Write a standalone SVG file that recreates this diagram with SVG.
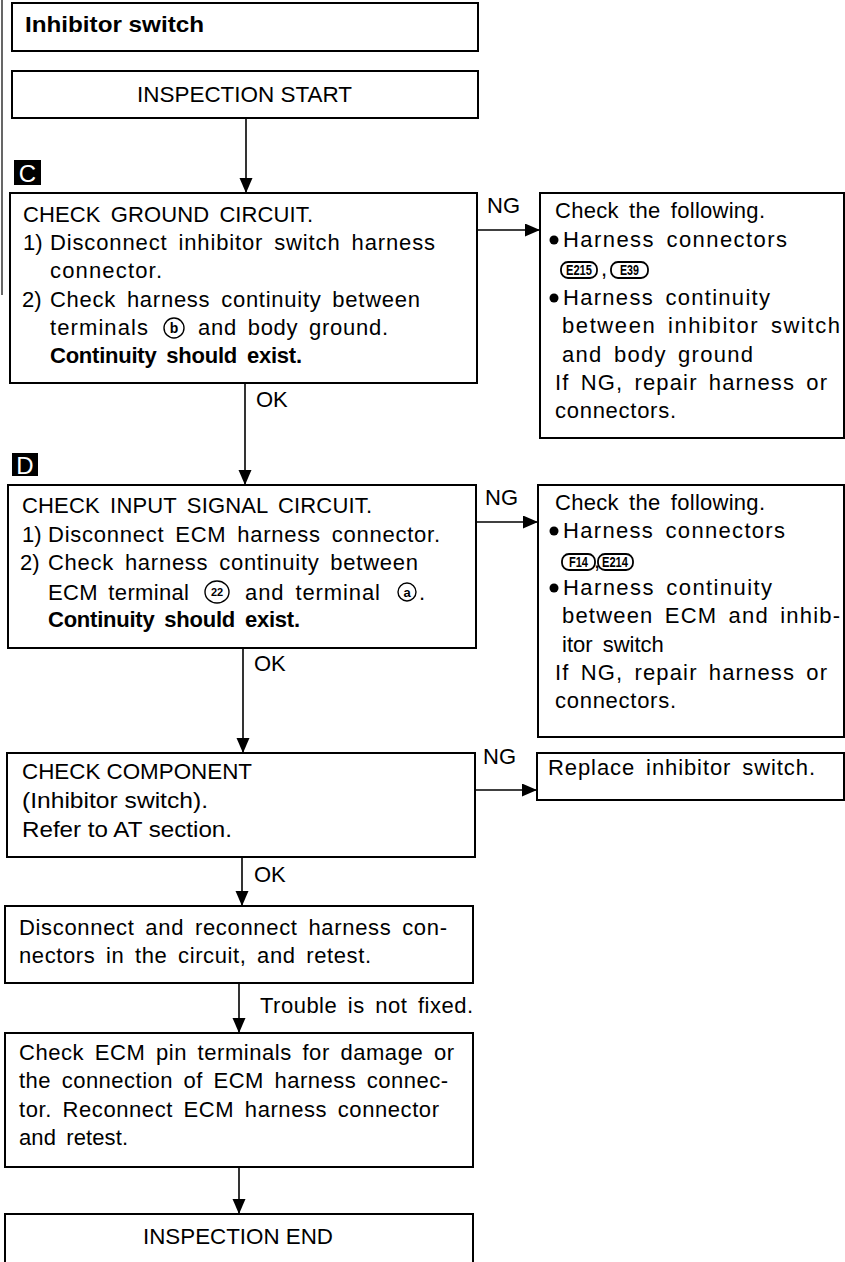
<svg xmlns="http://www.w3.org/2000/svg" width="845" height="1262" viewBox="0 0 845 1262">
<defs>
<marker id="ah" markerUnits="userSpaceOnUse" markerWidth="16" markerHeight="14" refX="15" refY="6.5" orient="auto">
<path d="M0,0 L15,6.5 L0,13 z" fill="#000"/>
</marker>
<style>
.box{fill:#fff;stroke:#000;stroke-width:2}
.t{font-family:"Liberation Sans",Arial,sans-serif;font-size:22px;word-spacing:4px;fill:#000}
.n{word-spacing:0}
.b{font-weight:bold}
.con{fill:none;stroke:#000;stroke-width:1.6}
.pill{fill:#fff;stroke:#000;stroke-width:1.8}
.pt{font-family:"Liberation Sans",Arial,sans-serif;font-size:14px;font-weight:bold;fill:#000}
.circ{fill:none;stroke:#000;stroke-width:1.4}
.ct{font-family:"Liberation Sans",Arial,sans-serif;font-weight:bold;text-anchor:middle;fill:#000}
.tag{fill:#000}
.tagt{font-family:"Liberation Sans",Arial,sans-serif;font-size:24px;fill:#fff;text-anchor:middle}
</style>
</defs>
<rect width="845" height="1262" fill="#fff"/>
<line x1="2" y1="0" x2="2" y2="295" stroke="#000" stroke-width="1.2"/>

<g id="title">
<rect class="box" x="12" y="3" width="466" height="48"/>
<text class="t b n" x="25" y="32" font-size="23" textLength="179" lengthAdjust="spacingAndGlyphs">Inhibitor switch</text>
</g>

<g id="start">
<rect class="box" x="12" y="71" width="466" height="47"/>
<text class="t n" x="137" y="102" textLength="215" lengthAdjust="spacingAndGlyphs">INSPECTION START</text>
</g>

<g id="checkGround">
<rect class="tag" x="14" y="160" width="27" height="25"/>
<text class="tagt" x="27.5" y="182">C</text>
<rect class="box" x="10" y="193" width="467" height="190"/>
<text class="t" x="23" y="222" textLength="290" lengthAdjust="spacing">CHECK GROUND CIRCUIT.</text>
<text class="t" x="23" y="250">1)</text>
<text class="t" x="50" y="250" textLength="385" lengthAdjust="spacing">Disconnect inhibitor switch harness</text>
<text class="t" x="50" y="278" textLength="112" lengthAdjust="spacing">connector.</text>
<text class="t" x="22" y="307">2)</text>
<text class="t" x="50" y="307" textLength="370" lengthAdjust="spacing">Check harness continuity between</text>
<text class="t" x="50" y="335" textLength="98" lengthAdjust="spacing">terminals</text>
<ellipse class="circ" cx="174" cy="328" rx="10" ry="10"/>
<text class="ct" x="174" y="333" font-size="14">b</text>
<text class="t" x="198" y="335" textLength="190" lengthAdjust="spacing">and body ground.</text>
<text class="t b" x="50" y="363" textLength="252" lengthAdjust="spacing">Continuity should exist.</text>
</g>

<g id="fix1">
<rect class="box" x="540" y="193" width="304" height="245"/>
<text class="t" x="555" y="218" textLength="210" lengthAdjust="spacing">Check the following.</text>
<circle cx="554" cy="240" r="4.5"/>
<text class="t" x="563" y="247" textLength="224" lengthAdjust="spacing">Harness connectors</text>
<rect class="pill" x="561" y="262" width="36" height="16" rx="7"/>
<text class="pt" x="566" y="275" textLength="26" lengthAdjust="spacingAndGlyphs">E215</text>
<text class="t" x="601" y="276">,</text>
<rect class="pill" x="611" y="262" width="37" height="16" rx="7"/>
<text class="pt" x="620" y="275" textLength="19" lengthAdjust="spacingAndGlyphs">E39</text>
<circle cx="554" cy="298" r="4.5"/>
<text class="t" x="563" y="305" textLength="207" lengthAdjust="spacing">Harness continuity</text>
<text class="t" x="562" y="333" textLength="278" lengthAdjust="spacing">between inhibitor switch</text>
<text class="t" x="562" y="362" textLength="191" lengthAdjust="spacing">and body ground</text>
<text class="t" x="555" y="390" textLength="272" lengthAdjust="spacing">If NG, repair harness or</text>
<text class="t" x="555" y="418" textLength="121" lengthAdjust="spacing">connectors.</text>
</g>

<g id="checkInput">
<rect class="tag" x="12" y="453" width="26" height="23"/>
<text class="tagt" x="25" y="474">D</text>
<rect class="box" x="8" y="485" width="468" height="163"/>
<text class="t" x="22" y="513" textLength="350" lengthAdjust="spacing">CHECK INPUT SIGNAL CIRCUIT.</text>
<text class="t" x="22" y="542">1)</text>
<text class="t" x="48" y="542" textLength="392" lengthAdjust="spacing">Disconnect ECM harness connector.</text>
<text class="t" x="20" y="570">2)</text>
<text class="t" x="48" y="570" textLength="370" lengthAdjust="spacing">Check harness continuity between</text>
<text class="t" x="48" y="600" textLength="141" lengthAdjust="spacing">ECM terminal</text>
<ellipse class="circ" cx="217" cy="592" rx="12" ry="11"/>
<text class="ct" x="217" y="596" font-size="11">22</text>
<text class="t" x="245" y="600" textLength="135" lengthAdjust="spacing">and terminal</text>
<circle class="circ" cx="407" cy="592" r="9"/>
<text class="ct" x="407" y="597" font-size="13">a</text>
<text class="t" x="419" y="600">.</text>
<text class="t b" x="48" y="627" textLength="252" lengthAdjust="spacing">Continuity should exist.</text>
</g>

<g id="fix2">
<rect class="box" x="538" y="485" width="306" height="252"/>
<text class="t" x="555" y="510" textLength="210" lengthAdjust="spacing">Check the following.</text>
<circle cx="554" cy="531" r="4.5"/>
<text class="t" x="563" y="538" textLength="222" lengthAdjust="spacing">Harness connectors</text>
<rect class="pill" x="562" y="554" width="33" height="16" rx="7"/>
<text class="pt" x="569" y="567" textLength="19" lengthAdjust="spacingAndGlyphs">F14</text>
<text class="t" x="594" y="568">,</text>
<rect class="pill" x="598" y="554" width="35" height="16" rx="7"/>
<text class="pt" x="602" y="567" textLength="26" lengthAdjust="spacingAndGlyphs">E214</text>
<circle cx="554" cy="588" r="4.5"/>
<text class="t" x="563" y="595" textLength="209" lengthAdjust="spacing">Harness continuity</text>
<text class="t" x="562" y="623" textLength="278" lengthAdjust="spacing">between ECM and inhib-</text>
<text class="t" x="562" y="652">itor switch</text>
<text class="t" x="555" y="680" textLength="272" lengthAdjust="spacing">If NG, repair harness or</text>
<text class="t" x="555" y="708" textLength="121" lengthAdjust="spacing">connectors.</text>
</g>

<g id="checkComponent">
<rect class="box" x="7" y="753" width="468" height="104"/>
<text class="t n" x="22" y="779" textLength="230" lengthAdjust="spacingAndGlyphs">CHECK COMPONENT</text>
<text class="t n" x="22" y="808" textLength="186" lengthAdjust="spacingAndGlyphs">(Inhibitor switch).</text>
<text class="t n" x="22" y="837" textLength="210" lengthAdjust="spacingAndGlyphs">Refer to AT section.</text>
</g>

<g id="replace">
<rect class="box" x="537" y="753" width="307" height="47"/>
<text class="t" x="548" y="775" textLength="267" lengthAdjust="spacing">Replace inhibitor switch.</text>
</g>

<g id="reconnect">
<rect class="box" x="5" y="906" width="468" height="77"/>
<text class="t" x="19" y="935" textLength="428" lengthAdjust="spacing">Disconnect and reconnect harness con-</text>
<text class="t" x="19" y="963" textLength="352" lengthAdjust="spacing">nectors in the circuit, and retest.</text>
</g>

<g id="checkECM">
<rect class="box" x="5" y="1033" width="468" height="134"/>
<text class="t" x="19" y="1060" textLength="435" lengthAdjust="spacing">Check ECM pin terminals for damage or</text>
<text class="t" x="19" y="1088" textLength="429" lengthAdjust="spacing">the connection of ECM harness connec-</text>
<text class="t" x="19" y="1117" textLength="420" lengthAdjust="spacing">tor. Reconnect ECM harness connector</text>
<text class="t" x="19" y="1145" textLength="109" lengthAdjust="spacing">and retest.</text>
</g>

<g id="end">
<rect class="box" x="5" y="1214" width="468" height="60"/>
<text class="t n" x="143" y="1244" textLength="190" lengthAdjust="spacingAndGlyphs">INSPECTION END</text>
</g>

<g id="connectors">
<line class="con" x1="246" y1="118" x2="246" y2="193" marker-end="url(#ah)"/>
<line class="con" x1="245" y1="383" x2="245" y2="485" marker-end="url(#ah)"/>
<text class="t" x="256" y="407">OK</text>
<line class="con" x1="477" y1="230" x2="540" y2="230" marker-end="url(#ah)"/>
<text class="t" x="487" y="213">NG</text>
<line class="con" x1="243" y1="648" x2="243" y2="753" marker-end="url(#ah)"/>
<text class="t" x="254" y="671">OK</text>
<line class="con" x1="476" y1="522" x2="538" y2="522" marker-end="url(#ah)"/>
<text class="t" x="485" y="505">NG</text>
<line class="con" x1="475" y1="790" x2="537" y2="790" marker-end="url(#ah)"/>
<text class="t" x="483" y="764">NG</text>
<line class="con" x1="242" y1="857" x2="242" y2="906" marker-end="url(#ah)"/>
<text class="t" x="254" y="882">OK</text>
<line class="con" x1="239" y1="983" x2="239" y2="1033" marker-end="url(#ah)"/>
<text class="t" x="260" y="1013" textLength="213" lengthAdjust="spacing">Trouble is not fixed.</text>
<line class="con" x1="239" y1="1167" x2="239" y2="1214" marker-end="url(#ah)"/>
</g>
</svg>
